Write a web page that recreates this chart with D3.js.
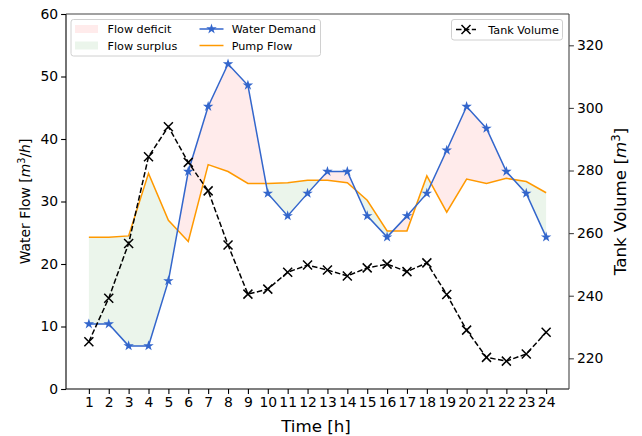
<!DOCTYPE html>
<html>
<head>
<meta charset="utf-8">
<script src="https://cdn.jsdelivr.net/npm/d3@7"></script>
<style>
  body { margin: 0; background: #fff; }
  text { font-family: "DejaVu Sans", sans-serif; }
</style>
</head>
<body>
<div id="contenedor"></div>
<script>
// datos
horas = d3.range(1, 25)
demanda = [10.4, 10.4, 6.9, 6.9, 17.3, 34.8, 45.2, 52.0, 48.6, 31.3, 27.7, 31.3,
           34.8, 34.8, 27.7, 24.3, 27.7, 31.3, 38.2, 45.2, 41.7, 34.8, 31.3, 24.3]
bomba = [24.3, 24.3, 24.5, 34.5, 27.0, 23.6, 35.9, 34.8, 32.9, 32.9, 33.0, 33.4,
         33.4, 33.0, 30.2, 25.3, 25.3, 34.1, 28.3, 33.6, 32.9, 33.7, 33.2, 31.4]
tanque = [225.3, 239.2, 256.7, 284.4, 294.0, 282.6, 273.5, 256.2, 240.5, 242.1, 247.5, 249.8,
          248.2, 246.3, 248.9, 250.1, 247.7, 250.5, 240.4, 229.0, 220.3, 219.1, 221.4, 228.3]
ticksIzq = [0, 10, 20, 30, 40, 50, 60]
ticksDer = [220, 240, 260, 280, 300, 320]

ancho = 642
alto = 436
azul = "#3366cc"
naranja = "#ff9900"

escalaX = d3.scaleLinear().domain([-0.15, 25.15]).range([66, 569])
escalaY = d3.scaleLinear().domain([0, 60]).range([389, 14])
escalaY2 = d3.scaleLinear().domain([210.2, 330]).range([389, 14])

svg = d3.select("#contenedor")
    .append("svg")
    .attr("width", ancho)
    .attr("height", alto)

// puntos con los cruces interpolados para el relleno
puntos = []
for (let i = 0; i < horas.length; i++) {
    puntos.push({h: horas[i], d: demanda[i], b: bomba[i]})
    if (i < horas.length - 1) {
        let d0 = demanda[i] - bomba[i], d1 = demanda[i+1] - bomba[i+1]
        if (d0 * d1 < 0) {
            let t = d0 / (d0 - d1)
            let v = demanda[i] + t * (demanda[i+1] - demanda[i])
            puntos.push({h: horas[i] + t, d: v, b: v})
        }
    }
}

deficit = d3.area()
    .x(d => escalaX(d.h))
    .y0(d => escalaY(d.b))
    .y1(d => escalaY(Math.max(d.d, d.b)))
superavit = d3.area()
    .x(d => escalaX(d.h))
    .y0(d => escalaY(d.d))
    .y1(d => escalaY(Math.max(d.d, d.b)))

svg.append("path").attr("d", superavit(puntos)).attr("fill", "#008000").attr("fill-opacity", 0.08)
svg.append("path").attr("d", deficit(puntos)).attr("fill", "#ff0000").attr("fill-opacity", 0.08)

linea = d3.line().x((d, i) => escalaX(horas[i]))

svg.append("path")
    .attr("d", linea.y(d => escalaY(d))(bomba))
    .attr("fill", "none").attr("stroke", naranja).attr("stroke-width", 1.5)

svg.append("path")
    .attr("d", linea.y(d => escalaY(d))(demanda))
    .attr("fill", "none").attr("stroke", azul).attr("stroke-width", 1.5)

estrella = d3.symbol().type(d3.symbolStar).size(34)
svg.selectAll(".estrella")
    .data(demanda)
    .enter()
    .append("path")
    .attr("d", estrella)
    .attr("transform", (d, i) => "translate(" + escalaX(horas[i]) + "," + escalaY(d) + ")")
    .attr("fill", azul)

// ejes
ejeX = d3.axisBottom(escalaX).tickValues(horas).tickSize(4.9).tickPadding(3)
gx = svg.append("g").attr("transform", "translate(0,389)").call(ejeX)
ejeY = d3.axisLeft(escalaY).tickValues(ticksIzq).tickSize(4.9).tickPadding(3)
gy = svg.append("g").attr("transform", "translate(66,0)").call(ejeY)
ejeY2 = d3.axisRight(escalaY2).tickValues(ticksDer).tickSize(4.9).tickPadding(3)
gy2 = svg.append("g").attr("transform", "translate(569,0)").call(ejeY2)

;[gx, gy, gy2].forEach(g => {
    g.select(".domain").remove()
    g.selectAll("text").attr("font-family", "DejaVu Sans").attr("font-size", 13.9).attr("fill", "#000")
    g.selectAll("line").attr("stroke", "#000").attr("stroke-width", 1.1)
})
gy2.selectAll("line").attr("stroke", "#444")

// tanque (eje derecho)
svg.append("path")
    .attr("d", d3.line().x((d, i) => escalaX(horas[i])).y(d => escalaY2(d))(tanque))
    .attr("fill", "none").attr("stroke", "#000").attr("stroke-width", 1.5)
    .attr("stroke-dasharray", "5.5,2.4")

function cruz(g, cx, cy, r) {
    g.append("path")
        .attr("d", "M" + (cx - r) + "," + (cy - r) + "L" + (cx + r) + "," + (cy + r) +
                   "M" + (cx - r) + "," + (cy + r) + "L" + (cx + r) + "," + (cy - r))
        .attr("stroke", "#000").attr("stroke-width", 1.5).attr("fill", "none")
}
tanque.forEach((d, i) => cruz(svg, escalaX(horas[i]), escalaY2(d), 4.5))

// marco
svg.append("line").attr("x1", 66).attr("x2", 66).attr("y1", 14).attr("y2", 389).attr("stroke", "#000").attr("stroke-width", 1.1)
svg.append("line").attr("x1", 66).attr("x2", 569).attr("y1", 389).attr("y2", 389).attr("stroke", "#000").attr("stroke-width", 1.1)
svg.append("line").attr("x1", 66).attr("x2", 569).attr("y1", 14).attr("y2", 14).attr("stroke", "#444").attr("stroke-width", 1.1)
svg.append("line").attr("x1", 569).attr("x2", 569).attr("y1", 14).attr("y2", 389).attr("stroke", "#444").attr("stroke-width", 1.1)

// etiquetas de ejes
svg.append("text").attr("x", 316).attr("y", 431.5).attr("text-anchor", "middle")
    .attr("font-size", 16.7).text("Time [h]")

etqY = svg.append("text").attr("transform", "translate(30,201.5) rotate(-90)")
    .attr("text-anchor", "middle").attr("font-size", 13.9)
etqY.append("tspan").text("Water Flow [")
etqY.append("tspan").attr("font-style", "italic").text("m")
etqY.append("tspan").attr("font-size", 9.7).attr("dy", -5.5).text("3")
etqY.append("tspan").attr("dy", 5.5).text("/")
etqY.append("tspan").attr("font-style", "italic").text("h")
etqY.append("tspan").text("]")

etqY2 = svg.append("text").attr("transform", "translate(626,201.5) rotate(-90)")
    .attr("text-anchor", "middle").attr("font-size", 16.7)
etqY2.append("tspan").text("Tank Volume [")
etqY2.append("tspan").attr("font-style", "italic").text("m")
etqY2.append("tspan").attr("font-size", 11.7).attr("dy", -6.5).text("3")
etqY2.append("tspan").attr("dy", 6.5).text("]")

// leyenda izquierda
ley = svg.append("g")
ley.append("rect").attr("x", 71).attr("y", 19.5).attr("width", 249.5).attr("height", 36.5)
    .attr("rx", 2.5).attr("fill", "#fff").attr("fill-opacity", 0.8).attr("stroke", "#d0d0d0").attr("stroke-width", 1)
ley.append("rect").attr("x", 75).attr("y", 25).attr("width", 23).attr("height", 8)
    .attr("fill", "#ff0000").attr("fill-opacity", 0.08)
ley.append("rect").attr("x", 75).attr("y", 41.5).attr("width", 23).attr("height", 8)
    .attr("fill", "#008000").attr("fill-opacity", 0.08)
ley.append("text").attr("x", 107.5).attr("y", 33.3).attr("font-size", 11.2).text("Flow deficit")
ley.append("text").attr("x", 107.5).attr("y", 49.8).attr("font-size", 11.2).text("Flow surplus")
ley.append("line").attr("x1", 199.5).attr("x2", 223.5).attr("y1", 29).attr("y2", 29).attr("stroke", azul).attr("stroke-width", 1.5)
ley.append("path").attr("d", estrella).attr("transform", "translate(211.5,29)").attr("fill", azul)
ley.append("line").attr("x1", 199.5).attr("x2", 223.5).attr("y1", 45.5).attr("y2", 45.5).attr("stroke", naranja).attr("stroke-width", 1.5)
ley.append("text").attr("x", 231.7).attr("y", 33.3).attr("font-size", 11.2).text("Water Demand")
ley.append("text").attr("x", 231.7).attr("y", 49.8).attr("font-size", 11.2).text("Pump Flow")

// leyenda derecha
ley2 = svg.append("g")
ley2.append("rect").attr("x", 451.5).attr("y", 19.5).attr("width", 111).attr("height", 20.5)
    .attr("rx", 2.5).attr("fill", "#fff").attr("fill-opacity", 0.8).attr("stroke", "#d0d0d0").attr("stroke-width", 1)
ley2.append("line").attr("x1", 456).attr("x2", 476).attr("y1", 29.5).attr("y2", 29.5)
    .attr("stroke", "#000").attr("stroke-width", 1.5).attr("stroke-dasharray", "5.5,2.4")
cruz(ley2, 466, 29.5, 4.5)
ley2.append("text").attr("x", 488.3).attr("y", 33.6).attr("font-size", 11.2).text("Tank Volume")
</script>
</body>
</html>
